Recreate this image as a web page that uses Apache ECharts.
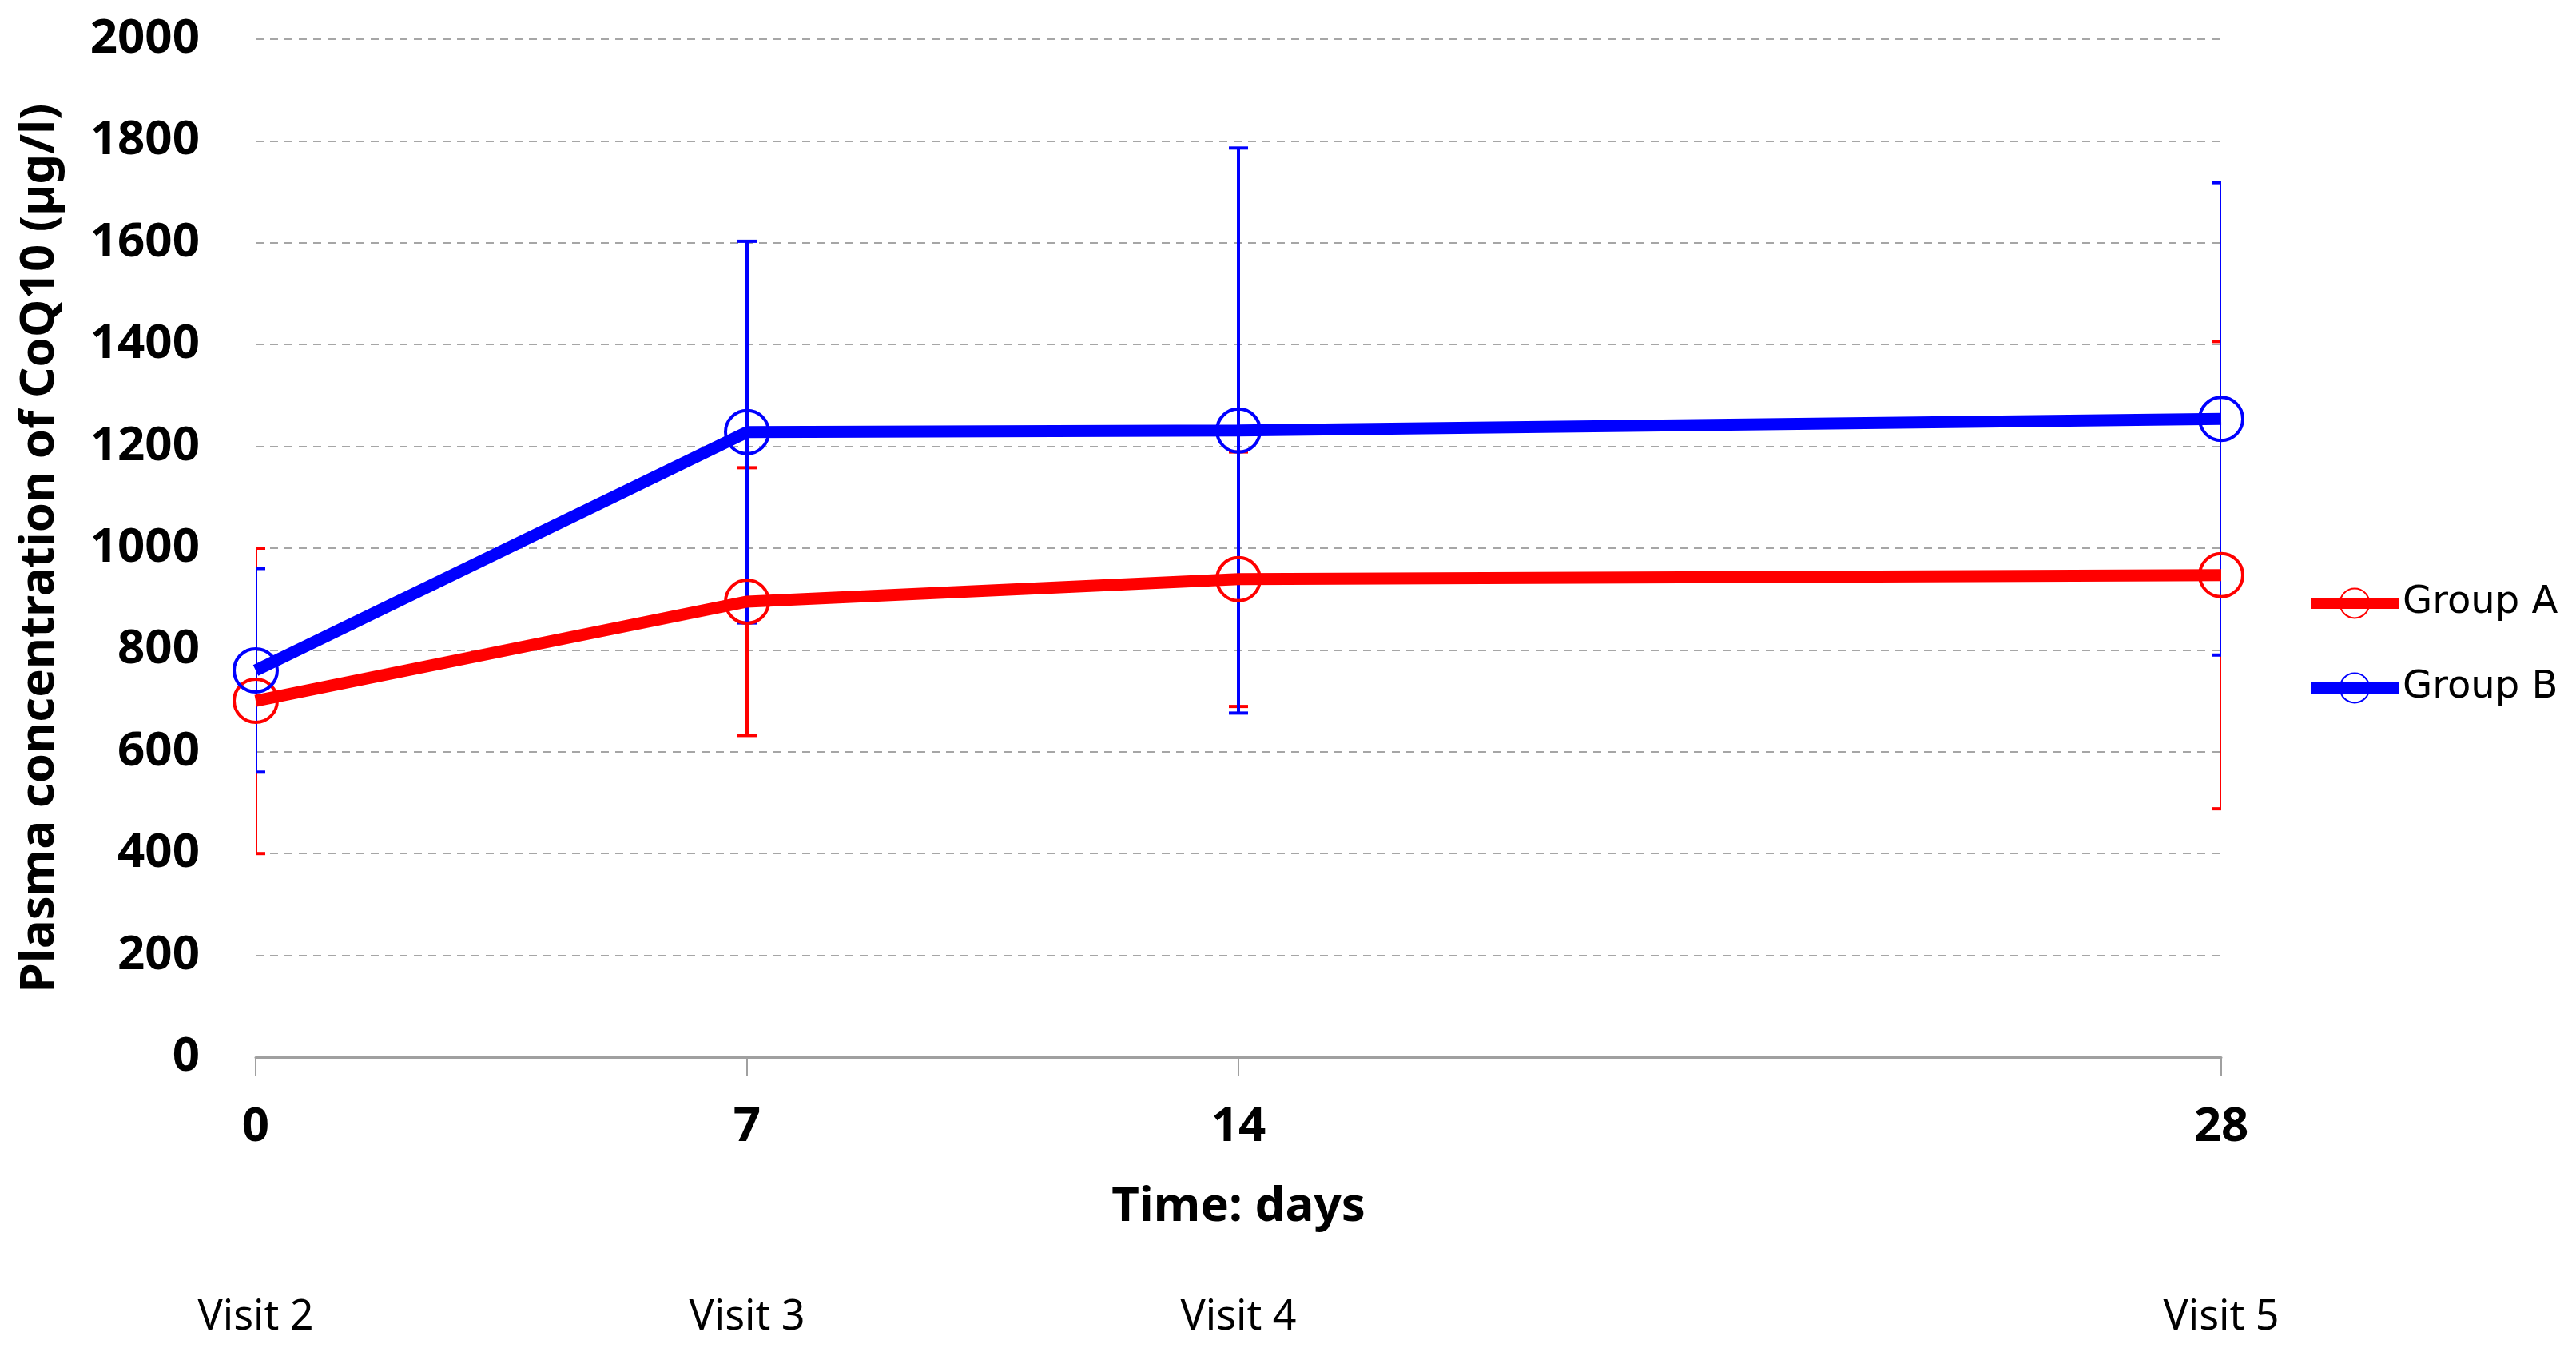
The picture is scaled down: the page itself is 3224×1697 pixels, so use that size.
<!DOCTYPE html>
<html>
<head>
<meta charset="utf-8">
<script src="https://cdn.jsdelivr.net/npm/echarts@6/dist/echarts.min.js"></script>
<style>
html,body{margin:0;padding:0;background:#fff;}
#chart{width:3224px;height:1697px;}
</style>
</head>
<body>
<div id="chart"></div>
<script>
// ---- data ----
const days = [0, 7, 14, 28];
const visitLabels = ['Visit 2', 'Visit 3', 'Visit 4', 'Visit 5'];
const groupAMean = [700, 895, 939, 947];
const groupAErr  = [300, 263, 250, 459];
const groupBMean = [760, 1228, 1231, 1254];
const groupBErr  = [200, 375, 555, 464];
const yTicks = [0, 200, 400, 600, 800, 1000, 1200, 1400, 1600, 1800, 2000];

const colorA = '#ff0000';
const colorB = '#0000ff';

function lineData(mean) { return days.map((d, i) => [d, mean[i]]); }
function errData(mean, err) { return days.map((d, i) => [d, mean[i] - err[i], mean[i] + err[i]]); }

function errRender(color) {
  return function (params, api) {
    const x = api.value(0);
    const lo = api.coord([x, api.value(1)]);
    const hi = api.coord([x, api.value(2)]);
    const hw = 12;
    const style = { stroke: color, lineWidth: 4, fill: 'none' };
    return {
      type: 'group',
      children: [
        { type: 'line', shape: { x1: lo[0], y1: lo[1], x2: hi[0], y2: hi[1] }, style: style },
        { type: 'line', shape: { x1: lo[0] - hw, y1: lo[1], x2: lo[0] + hw, y2: lo[1] }, style: style },
        { type: 'line', shape: { x1: hi[0] - hw, y1: hi[1], x2: hi[0] + hw, y2: hi[1] }, style: style }
      ]
    };
  };
}

const chart = echarts.init(document.getElementById('chart'));
const boldFont = '"Noto Sans", sans-serif';

chart.setOption({
  animation: false,
  backgroundColor: '#ffffff',
  grid: { left: 320, right: 444, top: 49, bottom: 374, containLabel: false },
  legend: {
    orient: 'vertical',
    left: 2880,
    top: 726,
    itemWidth: 110,
    itemHeight: 46,
    itemGap: 58,
    data: [
      { name: 'Group A', lineStyle: { width: 14, color: colorA } },
      { name: 'Group B', lineStyle: { width: 14, color: colorB } }
    ],
    textStyle: { fontFamily: '"DejaVu Sans", sans-serif', fontSize: 48, color: '#000' }
  },
  xAxis: [
    {
      type: 'value',
      min: 0, max: 28,
      name: 'Time: days',
      nameLocation: 'middle',
      nameGap: 158,
      nameTextStyle: { fontFamily: boldFont, fontWeight: 'bold', fontSize: 60, color: '#000' },
      axisLine: { show: true, lineStyle: { color: '#a0a0a0', width: 3 } },
      axisTick: { show: true, length: 24, customValues: days, lineStyle: { color: '#a0a0a0', width: 2 } },
      axisLabel: { customValues: days, margin: 58, fontFamily: boldFont, fontWeight: 'bold', fontSize: 60, color: '#000' },
      splitLine: { show: false }
    },
    {
      type: 'value',
      min: 0, max: 28,
      position: 'bottom',
      axisLine: { show: false },
      axisTick: { show: false },
      splitLine: { show: false },
      axisLabel: {
        customValues: days,
        margin: 300,
        fontFamily: boldFont,
        fontSize: 52,
        color: '#000',
        formatter: function (v) { const i = days.indexOf(v); return i >= 0 ? visitLabels[i] : ''; }
      }
    }
  ],
  yAxis: {
    type: 'value',
    min: 0, max: 2000, interval: 200,
    name: 'Plasma concentration of CoQ10 (µg/l)',
    nameLocation: 'middle',
    nameGap: 240,
    nameTextStyle: { fontFamily: boldFont, fontWeight: 'bold', fontSize: 60, color: '#000' },
    axisLine: { show: false },
    axisTick: { show: false },
    axisLabel: { margin: 70, fontFamily: boldFont, fontWeight: 'bold', fontSize: 60, color: '#000',
      customValues: yTicks, formatter: function (v) { return String(v); } },
    splitLine: { show: true, lineStyle: { color: '#a6a6a6', width: 2, type: [10, 8] } }
  },
  series: [
    {
      name: 'Group A err', type: 'custom', xAxisIndex: 0, clip: true, z: 2,
      renderItem: errRender(colorA), data: errData(groupAMean, groupAErr)
    },
    {
      name: 'Group B err', type: 'custom', xAxisIndex: 0, clip: true, z: 2,
      renderItem: errRender(colorB), data: errData(groupBMean, groupBErr)
    },
    {
      name: 'Group A', type: 'line', xAxisIndex: 0, z: 3,
      data: lineData(groupAMean),
      symbol: 'circle', symbolSize: 54,
      lineStyle: { color: colorA, width: 15 },
      itemStyle: { color: 'rgba(0,0,0,0)', borderColor: colorA, borderWidth: 4 }
    },
    {
      name: 'Group B', type: 'line', xAxisIndex: 0, z: 3,
      data: lineData(groupBMean),
      symbol: 'circle', symbolSize: 54,
      lineStyle: { color: colorB, width: 15 },
      itemStyle: { color: 'rgba(0,0,0,0)', borderColor: colorB, borderWidth: 4 }
    }
  ]
});
</script>
</body>
</html>
